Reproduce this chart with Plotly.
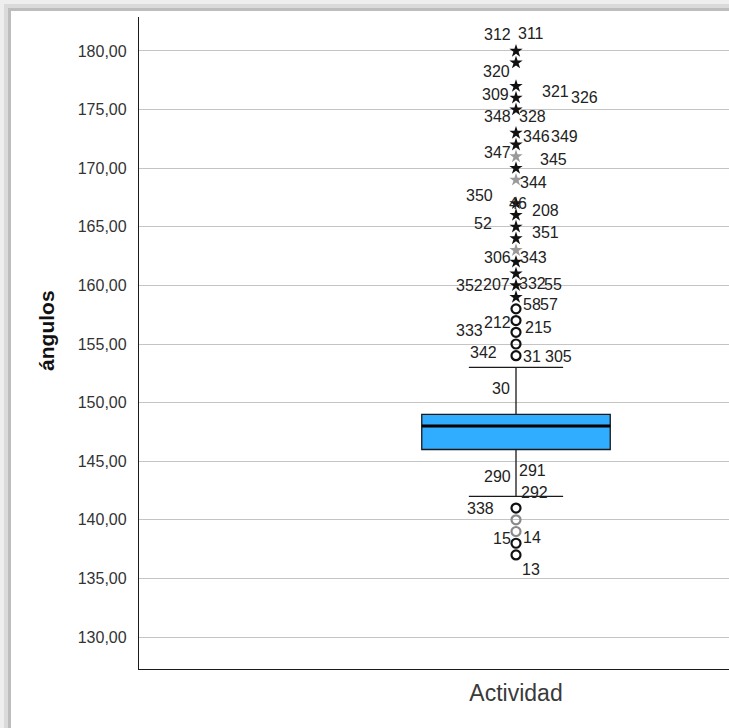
import plotly.graph_objects as go

# ---------------- data ----------------
category = "Actividad"
q1_val = 146.0
median_val = 148.0
q3_val = 149.0
lower_whisker = 142.0
upper_whisker = 153.0

# extreme outliers (stars) and their number of cases at the same value
extreme_values = [180, 179, 177, 176, 175, 173, 172, 171, 170, 169, 167, 166,
                  165, 164, 163, 162, 161, 160, 159]
extreme_counts = [2, 2, 2, 2, 3, 2, 2, 1, 2, 1, 3, 2, 2, 2, 1, 2, 2, 4, 2]

# mild outliers (circles)
mild_values = [158, 157, 156, 155, 154, 141, 140, 139, 138, 137]
mild_counts = [2, 2, 2, 2, 3, 2, 1, 1, 3, 2]

# case-number labels and the value each one is written beside
case_labels = ["312", "311", "320", "309", "321", "326", "348", "328", "346", "349",
               "347", "345", "344", "350", "46", "208", "52", "351", "306", "343",
               "352", "207", "332", "55", "58", "57", "333", "212", "215", "342",
               "31", "305", "30", "290", "291", "292", "338", "15", "14", "13"]
label_values = [181.37, 181.45, 178.25, 176.3, 176.55, 176.05, 174.38, 174.45, 172.7, 172.7,
                171.3, 170.75, 168.74, 167.7, 166.95, 166.35, 165.3, 164.55, 162.4, 162.42,
                160.0, 160.1, 160.15, 160.05, 158.35, 158.4, 156.15, 156.85, 156.4, 154.3,
                153.95, 153.95, 151.2, 143.7, 144.2, 142.35, 141.0, 138.4, 138.45, 135.75]
# horizontal pixel offsets of those labels from the box centre (layout only)
label_dx = [-19, 15, -20, -21, 39, 68, -19, 16, 20, 48,
            -19, 37, 17, -37, 2, 29, -33, 29, -19, 17,
            -47, -20, 16, 37, 16, 33, -47, -19, 22, -33,
            16, 42, -15, -19, 16, 18, -36, -14, 16, 15]

y_ticks = [130, 135, 140, 145, 150, 155, 160, 165, 170, 175, 180]

FONT = "Arial, Liberation Sans, sans-serif"
BOX_W = 0.25

fig = go.Figure()

fig.add_trace(go.Box(
    x=[0], q1=[q1_val], median=[median_val], q3=[q3_val],
    lowerfence=[lower_whisker], upperfence=[upper_whisker],
    width=BOX_W, whiskerwidth=0.5,
    fillcolor="#30adff", line=dict(color="#1a1a1a", width=1.3),
    boxpoints=False, hoverinfo="skip", showlegend=False,
))

# thicker median line
fig.add_trace(go.Scatter(
    x=[-BOX_W / 2, BOX_W / 2], y=[median_val, median_val], mode="lines",
    line=dict(color="#000000", width=3), hoverinfo="skip", showlegend=False,
))

# mild outliers
mild_colors = ["#111111" if c > 1 else "#8a8a8a" for c in mild_counts]
fig.add_trace(go.Scatter(
    x=[0] * len(mild_values), y=mild_values, mode="markers",
    marker=dict(symbol="circle-open", size=9, color=mild_colors,
                line=dict(width=2.2, color=mild_colors)),
    hoverinfo="y", showlegend=False,
))

# extreme outliers
fig.add_trace(go.Scatter(
    x=[0] * len(extreme_values), y=extreme_values, mode="markers",
    marker=dict(symbol="star", size=10,
                color=["#111111" if c > 1 else "#9a9a9a" for c in extreme_counts],
                line=dict(width=0)),
    hoverinfo="y", showlegend=False,
))

annotations = []
for txt, yv, dx in zip(case_labels, label_values, label_dx):
    annotations.append(dict(
        x=0, y=yv, xref="x", yref="y", text=txt, showarrow=False,
        xshift=dx, font=dict(family=FONT, size=16, color="#222222"),
        xanchor="center", yanchor="middle",
    ))

# y axis title
annotations.append(dict(
    x=-0.156, y=0.52, xref="paper", yref="paper", text="<b>ángulos</b>",
    showarrow=False, textangle=-90, font=dict(family=FONT, size=21, color="#111111"),
    xanchor="center", yanchor="middle",
))

# grey frame around the picture
L, T, B = 139, 17, 59
PW, PH = 729 - L, 728 - T - B
def px(x):
    return (x - L) / PW
def py(y):
    return (728 - B - y) / PH

shapes = [
    dict(type="rect", xref="paper", yref="paper", x0=px(0), x1=px(729), y0=py(728), y1=py(0),
         fillcolor="#eeeeee", line=dict(width=0), layer="below"),
    dict(type="rect", xref="paper", yref="paper", x0=px(4), x1=px(729), y0=py(728), y1=py(4),
         fillcolor="#dadada", line=dict(width=0), layer="below"),
    dict(type="rect", xref="paper", yref="paper", x0=px(8), x1=px(729), y0=py(728), y1=py(8),
         fillcolor="#bdbdbd", line=dict(width=0), layer="below"),
    dict(type="rect", xref="paper", yref="paper", x0=px(11), x1=px(729), y0=py(728), y1=py(11),
         fillcolor="#ffffff", line=dict(width=0), layer="below"),
]

fig.update_layout(
    width=729, height=728,
    margin=dict(l=L, r=0, t=T, b=B),
    paper_bgcolor="#ffffff", plot_bgcolor="rgba(0,0,0,0)",
    separators=",.",
    font=dict(family=FONT, color="#333333"),
    annotations=annotations, shapes=shapes,
    showlegend=False,
)
fig.update_xaxes(
    range=[-0.5, 0.2825], tickvals=[0], ticktext=[category],
    showgrid=False, zeroline=False, showline=True, linecolor="#1a1a1a", linewidth=1.3,
    ticks="", tickfont=dict(family=FONT, size=23, color="#3a3a3a"), ticklabelstandoff=3,
)
fig.update_yaxes(
    range=[127.27, 182.9], tickvals=y_ticks, tickformat=".2f",
    showgrid=True, gridcolor="#c4c4c4", gridwidth=1.2, zeroline=False,
    showline=True, linecolor="#1a1a1a", linewidth=1.3,
    ticks="", tickfont=dict(family=FONT, size=16, color="#333333"), ticklabelstandoff=8,
)

fig.write_html(
    "out.html",
    config={"displayModeBar": False},
    post_script="document.body.style.margin='0';document.body.style.overflow='hidden';",
)
